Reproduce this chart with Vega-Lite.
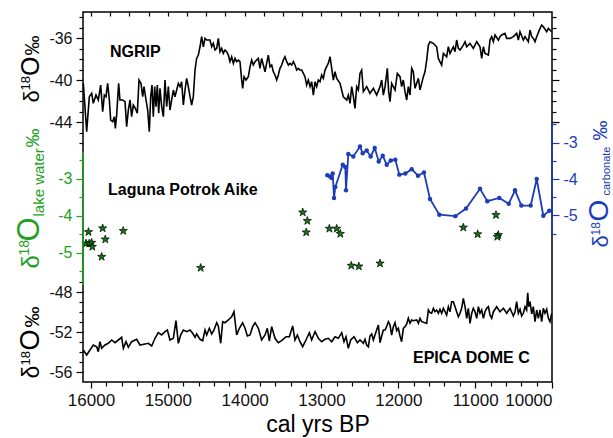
{
  "$schema": "https://vega.github.io/schema/vega-lite/v6.json",
  "width": 469,
  "height": 370,
  "autosize": "none",
  "padding": {"left": 83, "top": 12, "right": 61, "bottom": 56},
  "background": "white",
  "config": {
    "view": {"stroke": "#000", "strokeWidth": 1.5},
    "axis": {"domain": false, "grid": false, "labelFont": "Liberation Sans", "titleFont": "Liberation Sans", "tickColor": "#000", "labelColor": "#111", "titleColor": "#000", "tickWidth": 1.2, "titleFontWeight": "normal", "labelFontSize": 16, "labelPadding": 4},
    "axisY": {"titleAngle": 270, "titleAlign": "left", "titleBaseline": "alphabetic"}
  },
  "datasets": {
    "ngrip": [
      {"year":16100,"d18O":-40.32},{"year":16056,"d18O":-44.92},{"year":16022,"d18O":-41.59},{"year":15991,"d18O":-41.27},{"year":15970,"d18O":-42.22},{"year":15935,"d18O":-41.43},{"year":15905,"d18O":-41.90},{"year":15874,"d18O":-40.48},{"year":15848,"d18O":-43.02},{"year":15826,"d18O":-41.43},{"year":15805,"d18O":-41.59},{"year":15783,"d18O":-40.32},{"year":15761,"d18O":-41.90},{"year":15744,"d18O":-43.81},{"year":15718,"d18O":-43.97},{"year":15696,"d18O":-43.49},{"year":15683,"d18O":-44.60},{"year":15666,"d18O":-43.33},{"year":15640,"d18O":-40.32},{"year":15623,"d18O":-41.90},{"year":15588,"d18O":-41.90},{"year":15557,"d18O":-42.06},{"year":15536,"d18O":-44.44},{"year":15514,"d18O":-42.86},{"year":15492,"d18O":-41.90},{"year":15471,"d18O":-43.49},{"year":15449,"d18O":-42.38},{"year":15423,"d18O":-42.70},{"year":15397,"d18O":-43.17},{"year":15375,"d18O":-40.00},{"year":15349,"d18O":-40.32},{"year":15327,"d18O":-41.59},{"year":15310,"d18O":-40.63},{"year":15284,"d18O":-41.90},{"year":15262,"d18O":-42.86},{"year":15241,"d18O":-44.92},{"year":15223,"d18O":-41.59},{"year":15206,"d18O":-40.48},{"year":15189,"d18O":-43.49},{"year":15171,"d18O":-40.63},{"year":15154,"d18O":-42.54},{"year":15137,"d18O":-40.48},{"year":15119,"d18O":-43.17},{"year":15102,"d18O":-40.79},{"year":15080,"d18O":-42.54},{"year":15058,"d18O":-43.49},{"year":15037,"d18O":-40.00},{"year":15015,"d18O":-42.54},{"year":14993,"d18O":-40.63},{"year":14972,"d18O":-42.86},{"year":14950,"d18O":-41.90},{"year":14928,"d18O":-40.95},{"year":14907,"d18O":-41.59},{"year":14885,"d18O":-40.95},{"year":14863,"d18O":-40.32},{"year":14841,"d18O":-40.63},{"year":14820,"d18O":-40.16},{"year":14798,"d18O":-42.38},{"year":14776,"d18O":-40.95},{"year":14755,"d18O":-39.84},{"year":14733,"d18O":-40.63},{"year":14711,"d18O":-41.59},{"year":14690,"d18O":-42.38},{"year":14668,"d18O":-41.59},{"year":14646,"d18O":-39.05},{"year":14625,"d18O":-37.94},{"year":14603,"d18O":-37.62},{"year":14581,"d18O":-36.83},{"year":14560,"d18O":-35.87},{"year":14538,"d18O":-36.83},{"year":14516,"d18O":-36.03},{"year":14494,"d18O":-36.19},{"year":14451,"d18O":-36.19},{"year":14429,"d18O":-36.83},{"year":14408,"d18O":-36.51},{"year":14386,"d18O":-37.14},{"year":14364,"d18O":-36.98},{"year":14343,"d18O":-36.03},{"year":14321,"d18O":-37.30},{"year":14299,"d18O":-36.98},{"year":14278,"d18O":-37.46},{"year":14256,"d18O":-37.14},{"year":14234,"d18O":-37.30},{"year":14212,"d18O":-37.62},{"year":14191,"d18O":-38.25},{"year":14169,"d18O":-37.78},{"year":14147,"d18O":-38.41},{"year":14126,"d18O":-37.94},{"year":14104,"d18O":-38.25},{"year":14082,"d18O":-38.10},{"year":14061,"d18O":-38.25},{"year":14039,"d18O":-40.00},{"year":14026,"d18O":-40.79},{"year":14008,"d18O":-39.68},{"year":13982,"d18O":-40.00},{"year":13952,"d18O":-39.68},{"year":13930,"d18O":-38.73},{"year":13909,"d18O":-38.10},{"year":13887,"d18O":-38.57},{"year":13865,"d18O":-38.25},{"year":13844,"d18O":-38.10},{"year":13822,"d18O":-37.94},{"year":13801,"d18O":-38.89},{"year":13779,"d18O":-37.94},{"year":13757,"d18O":-38.57},{"year":13735,"d18O":-39.21},{"year":13714,"d18O":-38.41},{"year":13692,"d18O":-37.62},{"year":13670,"d18O":-38.73},{"year":13648,"d18O":-38.57},{"year":13627,"d18O":-39.21},{"year":13605,"d18O":-39.52},{"year":13583,"d18O":-40.00},{"year":13562,"d18O":-39.52},{"year":13540,"d18O":-38.89},{"year":13518,"d18O":-38.57},{"year":13497,"d18O":-38.10},{"year":13475,"d18O":-37.78},{"year":13453,"d18O":-38.25},{"year":13431,"d18O":-38.57},{"year":13410,"d18O":-38.41},{"year":13388,"d18O":-38.57},{"year":13366,"d18O":-38.25},{"year":13345,"d18O":-38.57},{"year":13323,"d18O":-39.05},{"year":13301,"d18O":-38.89},{"year":13280,"d18O":-39.05},{"year":13258,"d18O":-39.05},{"year":13236,"d18O":-39.37},{"year":13215,"d18O":-39.68},{"year":13193,"d18O":-40.48},{"year":13171,"d18O":-40.00},{"year":13149,"d18O":-40.63},{"year":13128,"d18O":-40.16},{"year":13106,"d18O":-41.43},{"year":13084,"d18O":-40.16},{"year":13063,"d18O":-40.63},{"year":13041,"d18O":-40.00},{"year":13019,"d18O":-40.16},{"year":12998,"d18O":-39.52},{"year":12976,"d18O":-39.84},{"year":12954,"d18O":-39.05},{"year":12933,"d18O":-38.73},{"year":12911,"d18O":-38.41},{"year":12889,"d18O":-37.78},{"year":12867,"d18O":-38.89},{"year":12846,"d18O":-40.00},{"year":12824,"d18O":-39.21},{"year":12802,"d18O":-39.84},{"year":12759,"d18O":-40.32},{"year":12716,"d18O":-41.59},{"year":12672,"d18O":-41.90},{"year":12651,"d18O":-41.43},{"year":12629,"d18O":-42.22},{"year":12607,"d18O":-40.63},{"year":12585,"d18O":-41.59},{"year":12564,"d18O":-42.70},{"year":12542,"d18O":-40.63},{"year":12520,"d18O":-40.95},{"year":12499,"d18O":-39.37},{"year":12477,"d18O":-39.05},{"year":12455,"d18O":-41.11},{"year":12412,"d18O":-40.63},{"year":12369,"d18O":-41.27},{"year":12325,"d18O":-40.79},{"year":12282,"d18O":-41.43},{"year":12238,"d18O":-40.63},{"year":12217,"d18O":-40.00},{"year":12195,"d18O":-41.43},{"year":12173,"d18O":-40.63},{"year":12143,"d18O":-38.89},{"year":12126,"d18O":-41.11},{"year":12108,"d18O":-42.06},{"year":12087,"d18O":-40.32},{"year":12043,"d18O":-40.95},{"year":12013,"d18O":-39.37},{"year":11978,"d18O":-39.68},{"year":11957,"d18O":-40.63},{"year":11935,"d18O":-40.00},{"year":11913,"d18O":-41.11},{"year":11891,"d18O":-41.90},{"year":11870,"d18O":-40.63},{"year":11848,"d18O":-41.43},{"year":11826,"d18O":-38.89},{"year":11805,"d18O":-39.21},{"year":11783,"d18O":-40.79},{"year":11739,"d18O":-39.84},{"year":11718,"d18O":-40.95},{"year":11696,"d18O":-40.32},{"year":11674,"d18O":-39.68},{"year":11653,"d18O":-39.21},{"year":11631,"d18O":-38.10},{"year":11609,"d18O":-36.67},{"year":11588,"d18O":-36.35},{"year":11544,"d18O":-36.51},{"year":11501,"d18O":-36.83},{"year":11479,"d18O":-37.94},{"year":11436,"d18O":-38.57},{"year":11414,"d18O":-37.46},{"year":11371,"d18O":-37.78},{"year":11349,"d18O":-36.83},{"year":11327,"d18O":-37.46},{"year":11284,"d18O":-36.83},{"year":11262,"d18O":-37.30},{"year":11241,"d18O":-36.19},{"year":11219,"d18O":-36.98},{"year":11197,"d18O":-37.14},{"year":11154,"d18O":-36.67},{"year":11132,"d18O":-36.35},{"year":11110,"d18O":-36.83},{"year":11067,"d18O":-36.51},{"year":11024,"d18O":-36.98},{"year":10980,"d18O":-36.35},{"year":10937,"d18O":-36.83},{"year":10915,"d18O":-37.94},{"year":10893,"d18O":-36.83},{"year":10872,"d18O":-37.46},{"year":10828,"d18O":-37.62},{"year":10807,"d18O":-36.19},{"year":10785,"d18O":-35.87},{"year":10763,"d18O":-36.35},{"year":10742,"d18O":-35.71},{"year":10698,"d18O":-36.19},{"year":10677,"d18O":-35.87},{"year":10655,"d18O":-35.71},{"year":10612,"d18O":-35.56},{"year":10590,"d18O":-36.03},{"year":10546,"d18O":-36.03},{"year":10503,"d18O":-35.87},{"year":10460,"d18O":-35.56},{"year":10438,"d18O":-36.19},{"year":10416,"d18O":-35.40},{"year":10373,"d18O":-36.19},{"year":10351,"d18O":-35.87},{"year":10308,"d18O":-36.35},{"year":10286,"d18O":-35.24},{"year":10264,"d18O":-35.87},{"year":10243,"d18O":-36.03},{"year":10221,"d18O":-36.35},{"year":10199,"d18O":-35.87},{"year":10156,"d18O":-35.08},{"year":10134,"d18O":-34.76},{"year":10113,"d18O":-34.92},{"year":10069,"d18O":-35.40},{"year":10047,"d18O":-35.08},{"year":10026,"d18O":-35.24},{"year":10004,"d18O":-35.40}
    ],
    "epica": [
      {"year":16100,"d18O":-53.80},{"year":16056,"d18O":-54.30},{"year":16013,"d18O":-53.80},{"year":15970,"d18O":-53.30},{"year":15926,"d18O":-53.47},{"year":15905,"d18O":-53.97},{"year":15883,"d18O":-52.97},{"year":15861,"d18O":-53.63},{"year":15818,"d18O":-53.30},{"year":15774,"d18O":-53.13},{"year":15731,"d18O":-52.80},{"year":15688,"d18O":-53.07},{"year":15644,"d18O":-52.80},{"year":15601,"d18O":-52.53},{"year":15579,"d18O":-53.63},{"year":15544,"d18O":-52.97},{"year":15514,"d18O":-53.53},{"year":15471,"d18O":-52.97},{"year":15406,"d18O":-52.73},{"year":15362,"d18O":-53.30},{"year":15297,"d18O":-53.20},{"year":15254,"d18O":-53.13},{"year":15210,"d18O":-53.40},{"year":15167,"d18O":-52.63},{"year":15124,"d18O":-52.07},{"year":15080,"d18O":-52.30},{"year":15037,"d18O":-51.97},{"year":15006,"d18O":-51.80},{"year":14972,"d18O":-52.80},{"year":14928,"d18O":-52.63},{"year":14894,"d18O":-50.87},{"year":14863,"d18O":-53.13},{"year":14833,"d18O":-52.30},{"year":14798,"d18O":-51.80},{"year":14755,"d18O":-51.97},{"year":14711,"d18O":-51.80},{"year":14677,"d18O":-52.13},{"year":14646,"d18O":-52.53},{"year":14625,"d18O":-52.20},{"year":14581,"d18O":-52.73},{"year":14546,"d18O":-52.87},{"year":14516,"d18O":-51.80},{"year":14494,"d18O":-52.30},{"year":14460,"d18O":-51.63},{"year":14429,"d18O":-52.20},{"year":14399,"d18O":-51.80},{"year":14364,"d18O":-51.07},{"year":14343,"d18O":-51.40},{"year":14312,"d18O":-53.13},{"year":14286,"d18O":-50.97},{"year":14256,"d18O":-51.07},{"year":14212,"d18O":-50.80},{"year":14169,"d18O":-50.47},{"year":14139,"d18O":-49.97},{"year":14104,"d18O":-52.30},{"year":14069,"d18O":-51.63},{"year":14026,"d18O":-51.07},{"year":13995,"d18O":-51.63},{"year":13965,"d18O":-52.40},{"year":13930,"d18O":-52.30},{"year":13896,"d18O":-51.47},{"year":13865,"d18O":-51.07},{"year":13822,"d18O":-51.63},{"year":13779,"d18O":-52.80},{"year":13735,"d18O":-52.30},{"year":13705,"d18O":-51.63},{"year":13679,"d18O":-52.90},{"year":13648,"d18O":-51.47},{"year":13605,"d18O":-52.63},{"year":13562,"d18O":-53.07},{"year":13518,"d18O":-52.87},{"year":13462,"d18O":-52.47},{"year":13418,"d18O":-52.47},{"year":13375,"d18O":-51.40},{"year":13345,"d18O":-52.80},{"year":13314,"d18O":-52.30},{"year":13280,"d18O":-52.97},{"year":13245,"d18O":-53.47},{"year":13202,"d18O":-52.80},{"year":13158,"d18O":-52.07},{"year":13128,"d18O":-52.80},{"year":13084,"d18O":-51.97},{"year":13041,"d18O":-52.63},{"year":12998,"d18O":-52.97},{"year":12954,"d18O":-52.73},{"year":12911,"d18O":-52.63},{"year":12867,"d18O":-52.97},{"year":12824,"d18O":-52.47},{"year":12781,"d18O":-52.63},{"year":12737,"d18O":-52.07},{"year":12707,"d18O":-52.97},{"year":12681,"d18O":-52.47},{"year":12651,"d18O":-53.63},{"year":12620,"d18O":-52.80},{"year":12577,"d18O":-52.47},{"year":12533,"d18O":-53.07},{"year":12499,"d18O":-52.80},{"year":12455,"d18O":-53.13},{"year":12434,"d18O":-52.73},{"year":12412,"d18O":-53.30},{"year":12390,"d18O":-53.47},{"year":12369,"d18O":-52.40},{"year":12347,"d18O":-52.20},{"year":12325,"d18O":-52.80},{"year":12304,"d18O":-52.30},{"year":12282,"d18O":-51.80},{"year":12260,"d18O":-51.30},{"year":12238,"d18O":-53.07},{"year":12217,"d18O":-52.40},{"year":12195,"d18O":-51.80},{"year":12173,"d18O":-51.80},{"year":12152,"d18O":-51.47},{"year":12130,"d18O":-50.97},{"year":12108,"d18O":-51.30},{"year":12087,"d18O":-52.30},{"year":12065,"d18O":-51.47},{"year":12043,"d18O":-51.07},{"year":12022,"d18O":-51.87},{"year":12000,"d18O":-51.63},{"year":11978,"d18O":-52.40},{"year":11957,"d18O":-52.97},{"year":11935,"d18O":-51.63},{"year":11913,"d18O":-51.47},{"year":11891,"d18O":-51.20},{"year":11870,"d18O":-50.63},{"year":11848,"d18O":-51.13},{"year":11826,"d18O":-50.80},{"year":11805,"d18O":-50.87},{"year":11761,"d18O":-50.80},{"year":11739,"d18O":-51.13},{"year":11718,"d18O":-50.63},{"year":11696,"d18O":-50.97},{"year":11653,"d18O":-51.07},{"year":11631,"d18O":-51.13},{"year":11609,"d18O":-49.80},{"year":11588,"d18O":-50.07},{"year":11566,"d18O":-50.13},{"year":11544,"d18O":-49.63},{"year":11523,"d18O":-49.97},{"year":11501,"d18O":-49.80},{"year":11479,"d18O":-50.13},{"year":11458,"d18O":-49.73},{"year":11436,"d18O":-50.13},{"year":11414,"d18O":-49.63},{"year":11371,"d18O":-50.30},{"year":11349,"d18O":-49.47},{"year":11327,"d18O":-49.97},{"year":11306,"d18O":-48.97},{"year":11284,"d18O":-48.97},{"year":11262,"d18O":-49.47},{"year":11241,"d18O":-49.97},{"year":11219,"d18O":-50.47},{"year":11197,"d18O":-50.13},{"year":11176,"d18O":-49.63},{"year":11154,"d18O":-48.63},{"year":11132,"d18O":-49.47},{"year":11110,"d18O":-50.63},{"year":11089,"d18O":-49.63},{"year":11067,"d18O":-51.13},{"year":11045,"d18O":-50.13},{"year":11024,"d18O":-49.63},{"year":11002,"d18O":-49.97},{"year":10980,"d18O":-50.63},{"year":10958,"d18O":-49.47},{"year":10937,"d18O":-50.13},{"year":10915,"d18O":-49.80},{"year":10893,"d18O":-50.63},{"year":10872,"d18O":-49.97},{"year":10850,"d18O":-49.63},{"year":10828,"d18O":-49.47},{"year":10807,"d18O":-50.30},{"year":10785,"d18O":-50.63},{"year":10763,"d18O":-49.97},{"year":10720,"d18O":-49.47},{"year":10677,"d18O":-49.97},{"year":10633,"d18O":-49.63},{"year":10590,"d18O":-50.13},{"year":10546,"d18O":-49.63},{"year":10503,"d18O":-50.40},{"year":10481,"d18O":-49.97},{"year":10460,"d18O":-48.97},{"year":10438,"d18O":-50.13},{"year":10416,"d18O":-49.73},{"year":10395,"d18O":-50.40},{"year":10373,"d18O":-50.13},{"year":10351,"d18O":-49.47},{"year":10330,"d18O":-49.80},{"year":10316,"d18O":-48.07},{"year":10303,"d18O":-49.47},{"year":10286,"d18O":-48.97},{"year":10264,"d18O":-50.20},{"year":10243,"d18O":-49.47},{"year":10221,"d18O":-50.97},{"year":10199,"d18O":-49.80},{"year":10178,"d18O":-50.63},{"year":10156,"d18O":-49.80},{"year":10134,"d18O":-50.97},{"year":10113,"d18O":-49.63},{"year":10091,"d18O":-50.13},{"year":10069,"d18O":-49.73},{"year":10047,"d18O":-50.63},{"year":10026,"d18O":-50.97},{"year":10004,"d18O":-50.13}
    ],
    "lake": [
      {"year":16065,"d18O":-4.75},{"year":16022,"d18O":-4.75},{"year":15991,"d18O":-4.73},{"year":15983,"d18O":-4.84},{"year":16033,"d18O":-4.44},{"year":15861,"d18O":-5.11},{"year":15848,"d18O":-4.34},{"year":15814,"d18O":-4.64},{"year":15580,"d18O":-4.41},{"year":14572,"d18O":-5.41},{"year":13244,"d18O":-3.91},{"year":13185,"d18O":-4.14},{"year":13199,"d18O":-4.45},{"year":12898,"d18O":-4.35},{"year":12802,"d18O":-4.35},{"year":12755,"d18O":-4.49},{"year":12612,"d18O":-5.35},{"year":12514,"d18O":-5.37},{"year":12238,"d18O":-5.29},{"year":11154,"d18O":-4.32},{"year":10967,"d18O":-4.50},{"year":10729,"d18O":-3.98},{"year":10699,"d18O":-4.52},{"year":10712,"d18O":-4.57}
    ],
    "carb": [
      {"year":12924,"d18O":-3.90},{"year":12889,"d18O":-3.93},{"year":12867,"d18O":-3.97},{"year":12854,"d18O":-3.85},{"year":12837,"d18O":-4.52},{"year":12820,"d18O":-4.22},{"year":12724,"d18O":-3.61},{"year":12690,"d18O":-3.67},{"year":12681,"d18O":-4.31},{"year":12651,"d18O":-3.31},{"year":12586,"d18O":-3.38},{"year":12499,"d18O":-3.11},{"year":12464,"d18O":-3.29},{"year":12412,"d18O":-3.22},{"year":12360,"d18O":-3.38},{"year":12307,"d18O":-3.15},{"year":12255,"d18O":-3.52},{"year":12203,"d18O":-3.36},{"year":12151,"d18O":-3.61},{"year":12099,"d18O":-3.49},{"year":12039,"d18O":-3.47},{"year":11987,"d18O":-3.88},{"year":11909,"d18O":-3.85},{"year":11826,"d18O":-3.73},{"year":11744,"d18O":-3.91},{"year":11666,"d18O":-3.82},{"year":11588,"d18O":-4.55},{"year":11467,"d18O":-4.98},{"year":11258,"d18O":-5.02},{"year":11119,"d18O":-4.81},{"year":10937,"d18O":-4.27},{"year":10842,"d18O":-4.61},{"year":10686,"d18O":-4.52},{"year":10563,"d18O":-4.68},{"year":10481,"d18O":-4.31},{"year":10399,"d18O":-4.73},{"year":10277,"d18O":-4.73},{"year":10199,"d18O":-4.00},{"year":10113,"d18O":-5.01},{"year":10035,"d18O":-4.87}
    ]
  },
  "layer": [
    {
      "data": {"name": "ngrip"},
      "layer": [
        {
          "mark": {"type": "line", "color": "#000", "strokeWidth": 1.6},
          "encoding": {
            "x": {"field": "year", "type": "quantitative", "scale": {"domain": [10000, 16104], "reverse": true, "nice": false, "zero": false},
                  "axis": {"orient": "bottom", "values": [10000, 11000, 12000, 13000, 14000, 15000, 16000], "format": "d", "tickSize": 6, "labelFontSize": 17, "labelPadding": 4, "title": "cal yrs BP", "titleFontSize": 23, "titlePadding": 5}},
            "y": {"field": "d18O", "type": "quantitative", "scale": {"domain": [-68.76, -33.52], "nice": false, "zero": false},
                  "axis": {"orient": "left", "values": [-44, -40, -36], "labelExpr": "'' + datum.value", "tickSize": 7, "title": "δ", "titleFontSize": 22, "titleX": -45, "titleY": 90}}
          }
        },
        {
          "mark": {"type": "point", "opacity": 0},
          "encoding": {
            "x": {"field": "year", "type": "quantitative", "axis": {"orient": "bottom", "values": [15800, 15600, 15400, 15200, 14800, 14600, 14400, 14200, 13800, 13600, 13400, 13200, 12800, 12600, 12400, 12200, 11800, 11600, 11400, 11200, 10800, 10600, 10400, 10200], "tickSize": 4, "labels": false, "title": null}},
            "y": {"field": "d18O", "type": "quantitative", "axis": {"orient": "left", "values": [-46, -45, -43, -42, -41, -39, -38, -37, -35, -34], "tickSize": 4, "labels": false, "title": "18", "titleFontSize": 13, "titleX": -54, "titleY": 78}}
          }
        },
        {
          "mark": {"type": "point", "opacity": 0},
          "encoding": {
            "x": {"field": "year", "type": "quantitative", "axis": null},
            "y": {"field": "d18O", "type": "quantitative", "axis": {"orient": "left", "values": [], "ticks": false, "labels": false, "title": "O", "titleFontSize": 25, "titleX": -45, "titleY": 63.5}}
          }
        },
        {
          "mark": {"type": "point", "opacity": 0},
          "encoding": {
            "x": {"field": "year", "type": "quantitative", "axis": null},
            "y": {"field": "d18O", "type": "quantitative", "axis": {"orient": "left", "values": [], "ticks": false, "labels": false, "title": "‰", "titleFontSize": 20, "titleX": -45, "titleY": 43}}
          }
        },
        {
          "mark": {"type": "point", "opacity": 0},
          "encoding": {
            "x": {"field": "year", "type": "quantitative", "axis": {"orient": "top", "values": [16000, 15750, 15500, 15250, 15000, 14750, 14500, 14250, 14000, 13750, 13500, 13250, 13000, 12750, 12500, 12250, 12000, 11750, 11500, 11250, 11000, 10750, 10500, 10250], "tickSize": -4, "labels": false, "title": null}},
            "y": {"field": "d18O", "type": "quantitative", "axis": {"orient": "right", "values": [-44, -40, -36], "tickSize": 7, "labels": false, "title": null}}
          }
        },
        {
          "mark": {"type": "point", "opacity": 0},
          "encoding": {
            "x": {"field": "year", "type": "quantitative", "axis": null},
            "y": {"field": "d18O", "type": "quantitative", "axis": {"orient": "right", "values": [-43, -42, -41, -39, -38, -37, -35, -34], "tickSize": 4, "labels": false, "title": null}}
          }
        },
        {
          "data": {"values": [{"label": "NGRIP"}]},
          "mark": {"type": "text", "font": "Liberation Sans", "fontWeight": "bold", "fontSize": 16, "align": "left", "baseline": "middle", "color": "#000"},
          "encoding": {
            "x": {"datum": 15753, "type": "quantitative", "axis": null},
            "y": {"datum": -37.33, "type": "quantitative", "axis": null},
            "text": {"field": "label"}
          }
        }
      ],
      "resolve": {"axis": {"x": "independent", "y": "independent"}}
    },
    {
      "data": {"name": "lake"},
      "layer": [
        {
          "mark": {"type": "point", "shape": "M0,-1L0.235,-0.324L0.951,-0.309L0.380,0.124L0.588,0.809L0,0.4L-0.588,0.809L-0.380,0.124L-0.951,-0.309L-0.235,-0.324Z", "size": 75, "filled": true, "fill": "#0e780e", "stroke": "#000", "strokeWidth": 0.7, "opacity": 1},
          "encoding": {
            "x": {"field": "year", "type": "quantitative", "axis": null},
            "y": {"field": "d18O", "type": "quantitative", "scale": {"domain": [-8.495, 1.505], "nice": false, "zero": false},
                  "axis": {"orient": "left", "values": [-5, -4, -3], "labelExpr": "'' + datum.value", "tickSize": 7, "tickColor": "#22a022", "labelColor": "#22a022", "title": "δ", "titleColor": "#22a022", "titleFontSize": 24, "titleX": -45, "titleY": 256}}
          }
        },
        {
          "mark": {"type": "point", "opacity": 0},
          "encoding": {
            "x": {"field": "year", "type": "quantitative", "axis": null},
            "y": {"field": "d18O", "type": "quantitative", "axis": {"orient": "left", "values": [-5.5, -4.5, -3.5, -2.5], "tickSize": 4, "tickColor": "#22a022", "labels": false, "title": "18", "titleColor": "#22a022", "titleFontSize": 14, "titleX": -55, "titleY": 243}}
          }
        },
        {
          "mark": {"type": "point", "opacity": 0},
          "encoding": {
            "x": {"field": "year", "type": "quantitative", "axis": null},
            "y": {"field": "d18O", "type": "quantitative", "axis": {"orient": "left", "values": [], "ticks": false, "labels": false, "title": "O", "titleColor": "#22a022", "titleFontSize": 31, "titleX": -45, "titleY": 229}}
          }
        },
        {
          "mark": {"type": "point", "opacity": 0},
          "encoding": {
            "x": {"field": "year", "type": "quantitative", "axis": null},
            "y": {"field": "d18O", "type": "quantitative", "axis": {"orient": "left", "values": [], "ticks": false, "labels": false, "title": "lake water", "titleColor": "#22a022", "titleFontSize": 15, "titleX": -40, "titleY": 204}}
          }
        },
        {
          "mark": {"type": "point", "opacity": 0},
          "encoding": {
            "x": {"field": "year", "type": "quantitative", "axis": null},
            "y": {"field": "d18O", "type": "quantitative", "axis": {"orient": "left", "values": [], "ticks": false, "labels": false, "title": "‰", "titleColor": "#22a022", "titleFontSize": 19, "titleX": -45, "titleY": 135}}
          }
        },
        {
          "data": {"values": [{"axis": "lake water"}]},
          "mark": {"type": "rule", "color": "#22a022", "strokeWidth": 1.6},
          "encoding": {
            "x": {"datum": 16104, "type": "quantitative", "axis": null},
            "y": {"datum": -2.28, "type": "quantitative", "axis": null},
            "y2": {"datum": -5.87}
          }
        },
        {
          "data": {"values": [{"label": "Laguna Potrok Aike"}]},
          "mark": {"type": "text", "font": "Liberation Sans", "fontWeight": "bold", "fontSize": 16, "align": "left", "baseline": "middle", "color": "#000"},
          "encoding": {
            "x": {"datum": 15779, "type": "quantitative", "axis": null},
            "y": {"datum": -3.31, "type": "quantitative", "axis": null},
            "text": {"field": "label"}
          }
        }
      ],
      "resolve": {"axis": {"x": "independent", "y": "independent"}}
    },
    {
      "data": {"name": "carb"},
      "layer": [
        {
          "mark": {"type": "line", "color": "#1d3db8", "strokeWidth": 1.8, "point": {"filled": true, "size": 20, "color": "#1d3db8"}},
          "encoding": {
            "x": {"field": "year", "type": "quantitative", "axis": null},
            "y": {"field": "d18O", "type": "quantitative", "scale": {"domain": [-9.577, 0.588], "nice": false, "zero": false},
                  "axis": {"orient": "right", "values": [-5, -4, -3], "labelExpr": "'' + datum.value", "tickSize": 7, "tickColor": "#1d3db8", "labelColor": "#1d3db8", "title": "δ", "titleColor": "#1d3db8", "titleFontSize": 22, "titleX": 55, "titleY": 235}}
          }
        },
        {
          "mark": {"type": "point", "opacity": 0},
          "encoding": {
            "x": {"field": "year", "type": "quantitative", "axis": null},
            "y": {"field": "d18O", "type": "quantitative", "axis": {"orient": "right", "values": [-5.5, -4.5, -3.5, -2.5], "tickSize": 4, "tickColor": "#1d3db8", "labels": false, "title": "18", "titleColor": "#1d3db8", "titleFontSize": 12, "titleX": 47, "titleY": 223}}
          }
        },
        {
          "mark": {"type": "point", "opacity": 0},
          "encoding": {
            "x": {"field": "year", "type": "quantitative", "axis": null},
            "y": {"field": "d18O", "type": "quantitative", "axis": {"orient": "right", "values": [], "ticks": false, "labels": false, "title": "O", "titleColor": "#1d3db8", "titleFontSize": 28, "titleX": 55, "titleY": 209}}
          }
        },
        {
          "mark": {"type": "point", "opacity": 0},
          "encoding": {
            "x": {"field": "year", "type": "quantitative", "axis": null},
            "y": {"field": "d18O", "type": "quantitative", "axis": {"orient": "right", "values": [], "ticks": false, "labels": false, "title": "carbonate", "titleColor": "#1d3db8", "titleFontSize": 11, "titleX": 57, "titleY": 183}}
          }
        },
        {
          "mark": {"type": "point", "opacity": 0},
          "encoding": {
            "x": {"field": "year", "type": "quantitative", "axis": null},
            "y": {"field": "d18O", "type": "quantitative", "axis": {"orient": "right", "values": [], "ticks": false, "labels": false, "title": "‰", "titleColor": "#1d3db8", "titleFontSize": 20, "titleX": 54, "titleY": 128}}
          }
        },
        {
          "data": {"values": [{"axis": "carbonate"}]},
          "mark": {"type": "rule", "color": "#1d3db8", "strokeWidth": 1.6},
          "encoding": {
            "x": {"datum": 10000, "type": "quantitative", "axis": null},
            "y": {"datum": -2.45, "type": "quantitative", "axis": null},
            "y2": {"datum": -5.5}
          }
        }
      ],
      "resolve": {"axis": {"x": "independent", "y": "independent"}}
    },
    {
      "data": {"name": "epica"},
      "layer": [
        {
          "mark": {"type": "line", "color": "#000", "strokeWidth": 1.6},
          "encoding": {
            "x": {"field": "year", "type": "quantitative", "axis": null},
            "y": {"field": "d18O", "type": "quantitative", "scale": {"domain": [-57, -20], "nice": false, "zero": false},
                  "axis": {"orient": "left", "values": [-56, -52, -48], "labelExpr": "'' + datum.value", "tickSize": 7, "title": "δ", "titleFontSize": 23, "titleX": -45, "titleY": 366}}
          }
        },
        {
          "mark": {"type": "point", "opacity": 0},
          "encoding": {
            "x": {"field": "year", "type": "quantitative", "axis": null},
            "y": {"field": "d18O", "type": "quantitative", "axis": {"orient": "left", "values": [-55, -54, -53, -51, -50, -49, -47], "tickSize": 4, "labels": false, "title": "18", "titleFontSize": 13, "titleX": -54, "titleY": 353}}
          }
        },
        {
          "mark": {"type": "point", "opacity": 0},
          "encoding": {
            "x": {"field": "year", "type": "quantitative", "axis": null},
            "y": {"field": "d18O", "type": "quantitative", "axis": {"orient": "left", "values": [], "ticks": false, "labels": false, "title": "O", "titleFontSize": 27, "titleX": -45, "titleY": 338}}
          }
        },
        {
          "mark": {"type": "point", "opacity": 0},
          "encoding": {
            "x": {"field": "year", "type": "quantitative", "axis": null},
            "y": {"field": "d18O", "type": "quantitative", "axis": {"orient": "left", "values": [], "ticks": false, "labels": false, "title": "‰", "titleFontSize": 21, "titleX": -45, "titleY": 315}}
          }
        },
        {
          "data": {"values": [{"label": "EPICA DOME C"}]},
          "mark": {"type": "text", "font": "Liberation Sans", "fontWeight": "bold", "fontSize": 16, "align": "left", "baseline": "middle", "color": "#000"},
          "encoding": {
            "x": {"datum": 11809, "type": "quantitative", "axis": null},
            "y": {"datum": -54.57, "type": "quantitative", "axis": null},
            "text": {"field": "label"}
          }
        }
      ],
      "resolve": {"axis": {"x": "independent", "y": "independent"}}
    }
  ],
  "resolve": {"scale": {"y": "independent"}, "axis": {"x": "independent", "y": "independent"}}
}
